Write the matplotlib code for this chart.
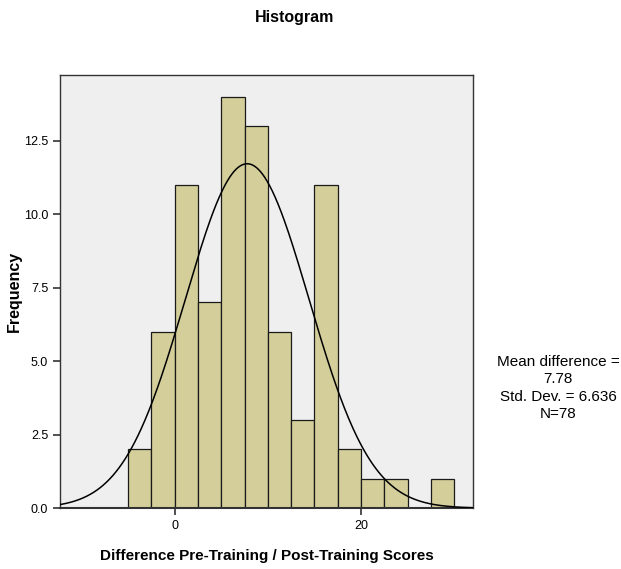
import matplotlib
matplotlib.use("Agg")
import matplotlib.pyplot as plt
import numpy as np

plt.rcParams['font.family'] = ['Liberation Sans', 'DejaVu Sans']

# histogram data (bin width 2.5)
bin_edges = [-5, -2.5, 0, 2.5, 5, 7.5, 10, 12.5, 15, 17.5, 20, 22.5, 25, 27.5, 30]
counts = [2, 6, 11, 7, 14, 13, 6, 3, 11, 2, 1, 1, 0, 1]
mean_diff = 7.78
std_dev = 6.636
n_total = 78
y_ticks = [0.0, 2.5, 5.0, 7.5, 10.0, 12.5]
x_ticks = [0, 20]

fig = plt.figure(figsize=(6.21, 5.69), dpi=100)
ax = fig.add_axes([0.0966, 0.107, 0.665, 0.761])
ax.set_facecolor("#efefef")

edges = np.array(bin_edges)
widths = np.diff(edges)
ax.bar(edges[:-1], counts, width=widths, align="edge",
       color="#d3ce9a", edgecolor="#1a1a1a", linewidth=0.9, zorder=2)

# normal curve scaled to counts
bw = widths[0]
xs = np.linspace(-12.3, 32.0, 400)
ys = n_total * bw / (std_dev * np.sqrt(2 * np.pi)) * np.exp(-0.5 * ((xs - mean_diff) / std_dev) ** 2)
ax.plot(xs, ys, color="black", linewidth=1.1, zorder=3)

ax.set_xlim(-12.3, 32.0)
ax.set_ylim(0, 14.74)
ax.set_yticks(y_ticks)
ax.set_yticklabels(["%.1f" % v for v in y_ticks], fontsize=9)
ax.set_xticks(x_ticks)
ax.set_xticklabels([str(v) for v in x_ticks], fontsize=9)
ax.tick_params(direction="out", length=5, width=1.2, color="#333333")
for s in ax.spines.values():
    s.set_linewidth(1.0)
    s.set_color("#333333")
ax.spines["bottom"].set_linewidth(1.5)

ax.set_xlabel("Difference Pre-Training / Post-Training Scores", fontsize=11, fontweight="bold", labelpad=12)
ax.set_ylabel("Frequency", fontsize=11.5, fontweight="bold")
ax.yaxis.set_label_coords(-0.092, 0.5)
fig.suptitle("Histogram", x=0.474, y=0.982, fontsize=11.5, fontweight="bold")

fig.text(0.899, 0.318,
         "Mean difference =\n%.2f\nStd. Dev. = %.3f\nN=%d" % (mean_diff, std_dev, n_total),
         ha="center", va="center", fontsize=11, linespacing=1.3)

fig.savefig("out.png", dpi=100)
